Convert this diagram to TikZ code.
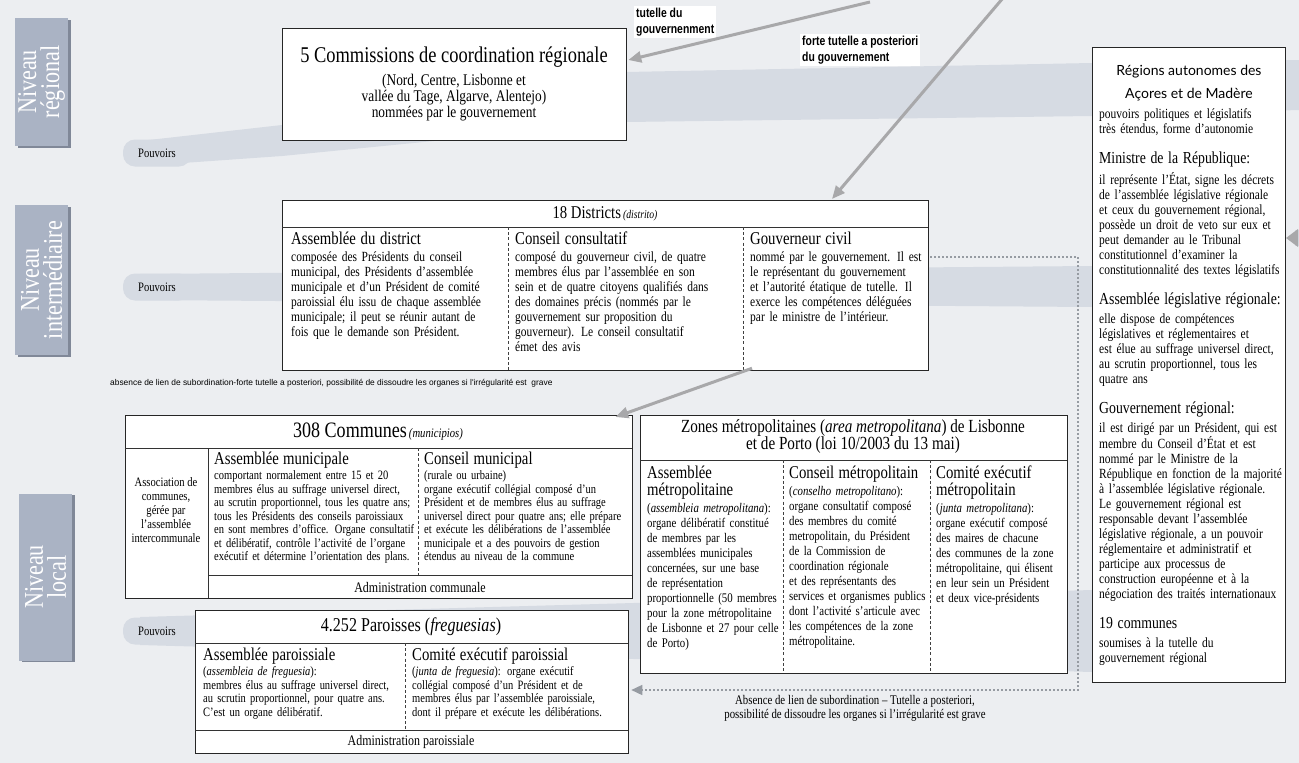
\documentclass[tikz,border=0pt]{standalone}
\usepackage{fontspec}
\setmainfont{Liberation Serif}[FakeStretch=0.82]
\newfontfamily\annfont{Liberation Sans}[FakeStretch=0.80]
\newfontfamily\titsans{Lato}
\newfontfamily\smallsans{Liberation Sans}
\usetikzlibrary{arrows.meta}
\setlength{\parindent}{0pt}
\definecolor{bg}{RGB}{236,238,241}
\definecolor{band}{RGB}{214,219,227}
\definecolor{niv}{RGB}{170,179,196}
\definecolor{nivd}{RGB}{128,136,152}
\definecolor{arr}{RGB}{168,168,170}
\definecolor{dotc}{RGB}{150,155,162}
\newcommand\fbody{\fontsize{14}{15}\selectfont}
\newcommand\fbodyc{\fontsize{12.8}{13.5}\selectfont}
\newcommand\fbodyz{\fontsize{13.2}{15}\selectfont}
\newcommand\fhead{\fontsize{18}{17}\selectfont}
\newcommand\colhd[1]{{\fhead #1\par}\vspace{2pt}}
\newcommand\rsec[1]{\par\vspace{15pt}{\fontsize{16.8}{15}\selectfont #1\par}\vspace{4pt}}
\begin{document}
\begin{tikzpicture}[x=1pt,y=-1pt,
  ubox/.style={draw=black!85,line width=1.3pt,fill=white,inner sep=0pt,anchor=north west},
  rowl/.style={draw=black!80,line width=0.9pt},
  divl/.style={draw=black!75,line width=0.6pt,dash pattern=on 3pt off 2.2pt},
  col/.style={inner sep=0pt,anchor=north west,align=left},
  ctext/.style={inner sep=0pt,align=center},
  garrow/.style={draw=arr,line width=3pt,-{Triangle[length=13pt,width=11pt,fill=arr]}},
  dotl/.style={draw=dotc,line width=1.5pt,dash pattern=on 1.5pt off 2.5pt},
  pouv/.style={fill=band,rounded corners=12pt,minimum width=68pt,minimum height=27pt,inner sep=0pt,font=\fontsize{12.9}{13}\selectfont},
  niv/.style={fill=niv,text=white,rotate=90,align=center,inner sep=0pt,font=\fontsize{27}{23}\selectfont},
  ann/.style={fill=white,inner sep=2pt,align=left,anchor=north west,font=\annfont\bfseries\fontsize{13}{16}\selectfont}
]
\useasboundingbox (0,0) rectangle (1299,763);
\fill[bg] (0,0) rectangle (1299,763);

% bands
\fill[band] (140,141) -- (282,125) -- (626,72) -- (1092,63) -- (1299,60) -- (1299,110) -- (1092,116) -- (626,122) -- (282,156) -- (140,166) -- cycle;
\fill[band] (140,274) -- (1092,266) -- (1092,307) -- (140,300) -- cycle;
\fill[band] (140,617) -- (1092,590) -- (1092,672) -- (140,645) -- cycle;
\fill[band] (1299,230) -- (1295,230) -- (1295,246) -- (1299,246) -- cycle;
\fill[arr] (1286,238) -- (1298,229) -- (1298,247) -- cycle;

% pouvoirs
\node[pouv] (p1) at (157,153) {Pouvoirs};
\node[pouv] (p2) at (157,287) {Pouvoirs};
\node[pouv] (p3) at (157,631) {Pouvoirs};

% niveau labels
\fill[nivd] (18,20) rectangle (71,148);
\node[niv,minimum width=128pt,minimum height=53pt] (nr) at (41.5,82) {Niveau\\régional};
\fill[nivd] (18,207) rectangle (71,357);
\node[niv,minimum width=150pt,minimum height=53pt] (ni) at (41.5,280) {Niveau\\intermédiaire};
\fill[nivd] (22,495) rectangle (75,662);
\node[niv,minimum width=167pt,minimum height=53pt] (nl) at (45.5,577) {Niveau\\local};

% commissions
\node[ubox,minimum width=344pt,minimum height=112pt] (comm) at (282,28) {};
\node[ctext,font=\fontsize{22.5}{22}\selectfont] (commT) at (454,57) {5 Commissions de coordination régionale};
\node[ctext,font=\fontsize{16.3}{16}\selectfont] (commS) at (454,98) {(Nord, Centre, Lisbonne et\\vallée du Tage, Algarve, Alentejo)\\nommées par le gouvernement};

% annotations
\node[ann] (ann1) at (634,6) {tutelle du\\gouvernenment};
\node[ann] (ann2) at (800,34) {forte tutelle a posteriori\\du gouvernement};

% districts
\node[ubox,minimum width=646pt,minimum height=170pt] (dist) at (282,200) {};
\draw[rowl] (282,227) -- (928,227);
\draw[divl] (508,227) -- (508,370);
\draw[divl] (743,227) -- (743,370);
\node[ctext] (distT) at (605,214) {{\fontsize{18}{18}\selectfont 18 Districts} {\fontsize{11.8}{12}\selectfont\itshape (distrito)}};
\node[col,text width=214pt,font=\fbody] (dc1) at (291,231.5) {\colhd{Assemblée du district}
composée des Présidents du conseil\\
municipal, des Présidents d'assemblée\\
municipale et d'un Président de comité\\
paroissial élu issu de chaque assemblée\\
municipale; il peut se réunir autant de\\
fois que le demande son Président.};
\node[col,text width=226pt,font=\fbody] (dc2) at (515,231.5) {\colhd{Conseil consultatif}
composé du gouverneur civil, de quatre\\
membres élus par l'assemblée en son\\
sein et de quatre citoyens qualifiés dans\\
des domaines précis (nommés par le\\
gouvernement sur proposition du\\
gouverneur). Le conseil consultatif\\
émet des avis};
\node[col,text width=176pt,font=\fbody] (dc3) at (750,231.5) {\colhd{Gouverneur civil}
nommé par le gouvernement. Il est\\
le représentant du gouvernement\\
et l'autorité étatique de tutelle. Il\\
exerce les compétences déléguées\\
par le ministre de l'intérieur.};

\node[inner sep=0pt,anchor=west,font=\smallsans\fontsize{8.4}{9}\selectfont] (absA) at (110,383) {absence de lien de subordination-forte tutelle a posteriori, possibilité de dissoudre les organes si l'irrégularité est \ grave};

% communes
\node[ubox,minimum width=507pt,minimum height=183pt] (cmn) at (125,415) {};
\draw[rowl] (125,448) -- (632,448);
\draw[rowl] (208,448) -- (208,598);
\draw[rowl] (208,575) -- (632,575);
\draw[divl] (418,448) -- (418,575);
\node[ctext] (cmnT) at (378,432) {{\fontsize{22}{20}\selectfont 308 Communes} {\fontsize{13}{12}\selectfont\itshape (municipios)}};
\node[ctext,font=\fontsize{12.9}{14}\selectfont] (assoc) at (166,510) {Association de\\communes,\\gérée par\\l'assemblée\\intercommunale};
\node[col,text width=203pt,font=\fbodyc] (cc2) at (214,451.5) {\colhd{Assemblée municipale}
comportant normalement entre 15 et 20\\
membres élus au suffrage universel direct,\\
au scrutin proportionnel, tous les quatre ans;\\
tous les Présidents des conseils paroissiaux\\
en sont membres d'office. Organe consultatif\\
et délibératif, contrôle l'activité de l'organe\\
exécutif et détermine l'orientation des plans.};
\node[col,text width=207pt,font=\fbodyc] (cc3) at (424,451.5) {\colhd{Conseil municipal}
(rurale ou urbaine)\\
organe exécutif collégial composé d'un\\
Président et de membres élus au suffrage\\
universel direct pour quatre ans; elle prépare\\
et exécute les délibérations de l'assemblée\\
municipale et a des pouvoirs de gestion\\
étendus au niveau de la commune};
\node[ctext,font=\fontsize{14.6}{14}\selectfont] (cmnA) at (420,587) {Administration communale};

% paroisses
\node[ubox,minimum width=433pt,minimum height=143pt] (par) at (195,610) {};
\draw[rowl] (195,643) -- (628,643);
\draw[rowl] (195,730) -- (628,730);
\draw[divl] (405,643) -- (405,730);
\node[ctext,font=\fontsize{19.6}{20}\selectfont] (parT) at (411,627) {4.252 Paroisses (\textit{freguesias})};
\node[col,text width=200pt,font=\fbodyc] (pc1) at (203,647.5) {\colhd{Assemblée paroissiale}
(\textit{assembleia de freguesia}):\\
membres élus au suffrage universel direct,\\
au scrutin proportionnel, pour quatre ans.\\
C'est un organe délibératif.};
\node[col,text width=214pt,font=\fbodyc] (pc2) at (412,647.5) {\colhd{Comité exécutif paroissial}
(\textit{junta de freguesia}): organe exécutif\\
collégial composé d'un Président et de\\
membres élus par l'assemblée paroissiale,\\
dont il prépare et exécute les délibérations.};
\node[ctext,font=\fontsize{14.6}{14}\selectfont] (parA) at (411,742) {Administration paroissiale};

% zones metropolitaines
\node[ubox,minimum width=427pt,minimum height=258pt] (zon) at (640,415) {};
\draw[rowl] (640,460) -- (1067,460);
\draw[divl] (783,460) -- (783,673);
\draw[divl] (930,460) -- (930,673);
\node[ctext,font=\fontsize{18.5}{17}\selectfont] (zonT) at (853,437) {Zones métropolitaines (\textit{area metropolitana}) de Lisbonne\\et de Porto (loi 10/2003 du 13 mai)};
\node[col,text width=136pt,font=\fbodyz] (zc1) at (647,465.5) {\colhd{Assemblée\\métropolitaine}
(\textit{assembleia metropolitana}):\\
organe délibératif constitué\\
de membres par les\\
assemblées municipales\\
concernées, sur une base\\
de représentation\\
proportionnelle (50 membres\\
pour la zone métropolitaine\\
de Lisbonne et 27 pour celle\\
de Porto)};
\node[col,text width=142pt,font=\fbodyz] (zc2) at (789,465.5) {\colhd{Conseil métropolitain}
(\textit{conselho metropolitano}):\\
organe consultatif composé\\
des membres du comité\\
metropolitain, du Président\\
de la Commission de\\
coordination régionale\\
et des représentants des\\
services et organismes publics\\
dont l'activité s'articule avec\\
les compétences de la zone\\
métropolitaine.};
\node[col,text width=132pt,font=\fbodyz] (zc3) at (936,465.5) {\colhd{Comité exécutif\\métropolitain}
(\textit{junta metropolitana}):\\
organe exécutif composé\\
des maires de chacune\\
des communes de la zone\\
métropolitaine, qui élisent\\
en leur sein un Président\\
et deux vice-présidents};
\node[ctext,font=\fontsize{13.2}{14}\selectfont] (absB) at (855,708) {Absence de lien de subordination -- Tutelle a posteriori,\\possibilité de dissoudre les organes si l'irrégularité est grave};

% regions autonomes
\node[ubox,minimum width=193pt,minimum height=635pt] (reg) at (1092,47) {};
\node[ctext,font=\titsans\fontsize{14}{23}\selectfont] (regT) at (1189,83) {Régions autonomes des\\Açores et de Madère};
\node[col,text width=186pt,font=\fbody] (regB) at (1099,108.5) {pouvoirs politiques et législatifs\\
très étendus, forme d'autonomie
\rsec{Ministre de la République:}
il représente l'État, signe les décrets\\
de l'assemblée législative régionale\\
et ceux du gouvernement régional,\\
possède un droit de veto sur eux et\\
peut demander au le Tribunal\\
constitutionnel d'examiner la\\
constitutionnalité des textes législatifs
\rsec{Assemblée législative régionale:}
elle dispose de compétences\\
législatives et réglementaires et\\
est élue au suffrage universel direct,\\
au scrutin proportionnel, tous les\\
quatre ans
\rsec{Gouvernement régional:}
il est dirigé par un Président, qui est\\
membre du Conseil d'État et est\\
nommé par le Ministre de la\\
République en fonction de la majorité\\
à l'assemblée législative régionale.\\
Le gouvernement régional est\\
responsable devant l'assemblée\\
législative régionale, a un pouvoir\\
réglementaire et administratif et\\
participe aux processus de\\
construction européenne et à la\\
négociation des traités internationaux
\rsec{19 communes}
soumises à la tutelle du\\
gouvernement régional};

% connectors
\coordinate (t1s) at (870,2);
\path (comm.north east) ++(1,32) coordinate (t1e);
\draw[garrow] (t1s) -- (t1e);
\coordinate (t2s) at (1003,-2);
\path (dist.north west) ++(550,-1) coordinate (t2e);
\draw[garrow] (t2s) -- (t2e);
\path (dist.south west) ++(470,-3) coordinate (t3s);
\path (cmn.north east) ++(-18,2) coordinate (t3e);
\draw[garrow] (t3s) -- (t3e);
\path (dist.north east) ++(1,57) coordinate (d0);
\coordinate (d1) at (1078,257);
\coordinate (d2) at (1078,690);
\path (par.north east) ++(2,80) coordinate (d3);
\draw[dotl,-{Triangle[length=11pt,width=10pt,fill=dotc]}] (d0) -- (d1) -- (d2) -- (d3);
\end{tikzpicture}
\end{document}
